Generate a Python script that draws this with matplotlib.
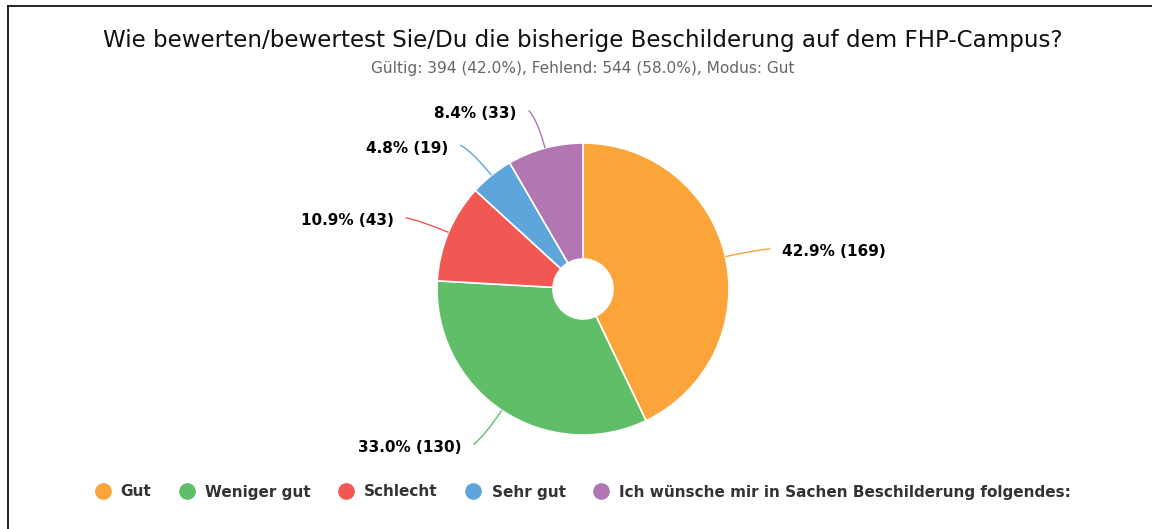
import numpy as np
import matplotlib
matplotlib.use("Agg")
import matplotlib.pyplot as plt
from matplotlib.path import Path
from matplotlib.patches import PathPatch
from matplotlib.lines import Line2D

categories = ["Gut", "Weniger gut", "Schlecht", "Sehr gut",
              "Ich wünsche mir in Sachen Beschilderung folgendes:"]
counts = [169, 130, 43, 19, 33]
colors = ["#FAA43A", "#60BD68", "#F15854", "#5DA5DA", "#B276B2"]
title = "Wie bewerten/bewertest Sie/Du die bisherige Beschilderung auf dem FHP-Campus?"
subtitle = "Gültig: 394 (42.0%), Fehlend: 544 (58.0%), Modus: Gut"

plt.rcParams["font.family"] = ["DejaVu Sans"]

W, H = 1152, 529
fig = plt.figure(figsize=(W / 100, H / 100), dpi=100)
ax = fig.add_axes([0, 0, 1, 1])

cx, cy, R = 583, H - 289, 146
total = sum(counts)
wedges, _ = ax.pie(counts, colors=colors, startangle=90, counterclock=False,
                   center=(cx, cy), radius=R, frame=True,
                   wedgeprops=dict(width=R - 30, edgecolor="white", linewidth=1.2))
ax.set_xlim(0, W)
ax.set_ylim(0, H)
ax.set_aspect("equal")
ax.axis("off")

# border lines (left and top)
ax.plot([7.5, 7.5], [0, H - 6], color="black", lw=1.2)
ax.plot([7.5, W], [H - 6, H - 6], color="black", lw=1.2)

for w, c, col in zip(wedges, counts, colors):
    ang = np.deg2rad((w.theta1 + w.theta2) / 2)
    ca, sa = np.cos(ang), np.sin(ang)
    side = 1 if ca >= 0 else -1
    p0 = (cx + R * ca, cy + R * sa)
    p1 = (cx + 176 * ca, cy + 176 * sa)
    p2 = (cx + 186 * ca + side * 6, cy + 186 * sa - 1)
    path = Path([p0, p1, p2], [Path.MOVETO, Path.CURVE3, Path.CURVE3])
    ax.add_patch(PathPatch(path, fc="none", ec=col, lw=1.0))
    pct = 100 * c / total
    ax.text(p2[0] + side * 12, p2[1] - 3, f"{pct:.1f}% ({c})",
            ha="left" if side > 0 else "right", va="center",
            fontsize=10.95, fontweight="bold", color="black")

fig.text(583 / W, 1 - 40 / H, title, ha="center", va="center",
         fontsize=16.6, color="#111111")
fig.text(583 / W, 1 - 69 / H, subtitle, ha="center", va="center",
         fontsize=11.05, color="#666666")

handles = [Line2D([], [], marker="o", linestyle="none", markersize=11,
                  markerfacecolor=col, markeredgecolor=col) for col in colors]
leg = fig.legend(handles, categories, loc="center", bbox_to_anchor=(583 / W, 1 - 492 / H),
                 ncol=5, frameon=False, handlelength=1.0, handletextpad=0.68,
                 columnspacing=1.83, prop=dict(size=11, weight="bold"))
for t in leg.get_texts():
    t.set_color("#333333")

fig.savefig("out.png", dpi=100, facecolor="white")
